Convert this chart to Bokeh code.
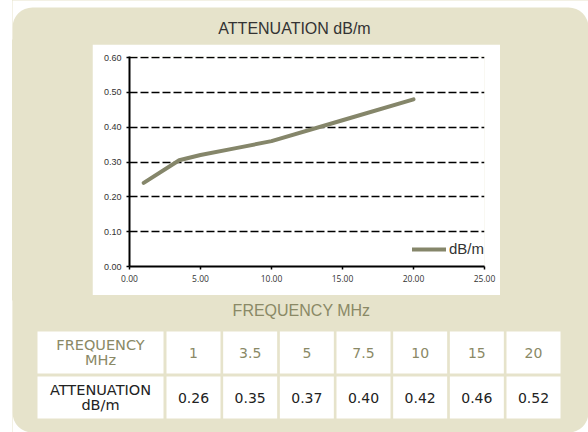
from bokeh.plotting import figure
from bokeh.layouts import column, row
from bokeh.models import (Legend, LegendItem, FixedTicker, NumeralTickFormatter, Range1d)
from bokeh.core.properties import value
from bokeh.embed import file_html
from bokeh.resources import INLINE

# ---- data -------------------------------------------------------------
freq_mhz = [1, 3.5, 5, 7.5, 10, 15, 20]
atten_db_m = [0.24, 0.305, 0.32, 0.34, 0.36, 0.42, 0.48]
x_ticks = [0, 5, 10, 15, 20, 25]
y_ticks = [0.0, 0.1, 0.2, 0.3, 0.4, 0.5, 0.6]
table_freq = ["1", "3.5", "5", "7.5", "10", "15", "20"]
table_atten = ["0.26", "0.35", "0.37", "0.40", "0.42", "0.46", "0.52"]
chart_title = "ATTENUATION dB/m"
x_title = "FREQUENCY MHz"
row_headers = [["FREQUENCY", "MHz"], ["ATTENUATION", "dB/m"]]

# ---- styles -----------------------------------------------------------
BEIGE = "#e6e3cb"
OLIVE = "#85866a"
OLIVE_TXT = "#8a8966"
DARK = "#333333"
TDARK = "#222222"
W, H = 588, 432
# white chart box (page px) and plot frame (page px)
wL, wT, wR, wB = 92, 44, 500, 295
fL, fT, fR, fB = 129, 57, 484, 266
bL, bT = 12, 7  # beige panel origin
RAD = 20
OV = 10  # overdraw beyond canvas edges


def deco(x0, x1, y0, y1):
    """Decorative figure whose frame fills its canvas; coordinates are page pixels."""
    f = figure(width=x1 - x0, height=y1 - y0, output_backend="svg",
               toolbar_location=None, x_axis_type=None, y_axis_type=None,
               x_range=Range1d(x0, x1), y_range=Range1d(y1, y0),
               min_border=0, outline_line_color=None, frame_align=False,
               background_fill_color=BEIGE, border_fill_color=BEIGE)
    f.grid.visible = False
    return f


# ---- top band (title) ------------------------------------------------
top = deco(bL, W, 0, wT)
top.quad(left=bL - OV, right=W + OV, top=-OV, bottom=wT - 5,
         fill_color="white", line_color=None)
top.quad(left=bL, right=W, top=bT, bottom=wT + 60, fill_color=BEIGE,
         line_color=None, border_radius=RAD)
top.text(x=[294], y=[28], text=[chart_title], text_align="center",
         text_baseline="middle", text_font=value("Liberation Sans"),
         text_font_size="16px", text_color=DARK)

# ---- side bands -------------------------------------------------------
left = deco(bL, wL, wT, wB)
right = deco(wR, W, wT, wB)

# ---- chart ------------------------------------------------------------
Y_TOP = 0.603
chart = figure(width=wR - wL, height=wB - wT, output_backend="svg", toolbar_location=None,
               x_range=Range1d(0, 25), y_range=Range1d(0, Y_TOP),
               min_border_left=fL - wL, min_border_right=wR - fR,
               min_border_top=fT - wT - 1, min_border_bottom=wB - fB,
               border_fill_color="white", background_fill_color="white",
               outline_line_color=None, frame_align=False)
r = chart.line(freq_mhz, atten_db_m, line_color=OLIVE, line_width=4,
               line_join="round", line_cap="round")
chart.xaxis.ticker = FixedTicker(ticks=x_ticks)
chart.yaxis.ticker = FixedTicker(ticks=y_ticks)
chart.xaxis.formatter = NumeralTickFormatter(format="0.00")
chart.yaxis.formatter = NumeralTickFormatter(format="0.00")
for ax in (chart.xaxis, chart.yaxis):
    ax.axis_line_color = "black"
    ax.axis_line_width = 2
    ax.major_tick_line_color = "black"
    ax.major_tick_line_width = 1.5
    ax.major_tick_in = 0
    ax.major_tick_out = 3
    ax.minor_tick_line_color = None
    ax.major_label_text_color = DARK
    ax.major_label_standoff = 5
chart.xaxis.major_label_text_font = "Open Sans"
chart.xaxis.major_label_text_font_size = "8.5px"
chart.yaxis.major_label_text_font = "Liberation Sans"
chart.yaxis.major_label_text_font_size = "9px"
chart.xgrid.visible = False
chart.ygrid.grid_line_color = "black"
chart.ygrid.grid_line_dash = "8 3"
chart.ygrid.grid_line_width = 1.4
legend = Legend(items=[LegendItem(label="dB/m", renderers=[r])], location=(283, 9),
                glyph_width=34, glyph_height=16, label_height=16, label_standoff=3,
                padding=0, margin=0, spacing=0, border_line_color=None,
                background_fill_alpha=0, label_text_font="Liberation Sans",
                label_text_font_size="15px", label_text_color=DARK)
chart.add_layout(legend)

# ---- bottom band (axis title + table) ---------------------------------
bot = deco(bL, W, wB, H)
bot.quad(left=bL - OV, right=W + OV, top=wB + 5, bottom=H + OV,
         fill_color="white", line_color=None)
bot.quad(left=bL, right=W, top=wB - 60, bottom=H, fill_color=BEIGE,
         line_color=None, border_radius=RAD)
bot.text(x=[301], y=[310], text=[x_title], text_align="center", text_baseline="middle",
         text_font=value("Liberation Sans"), text_font_size="16px", text_color=OLIVE_TXT)

row_tops = [331, 376]
row_h = 42
first_l, first_r = 37, 163
col0 = 166
pitch = (506 - 166) / 6
col_w = 54
n = len(table_freq)
cell_l, cell_r, cell_t, cell_b = [], [], [], []
for rt in row_tops:
    cell_l.append(first_l); cell_r.append(first_r)
    cell_t.append(rt); cell_b.append(rt + row_h)
    for i in range(n):
        cell_l.append(col0 + i * pitch); cell_r.append(col0 + i * pitch + col_w)
        cell_t.append(rt); cell_b.append(rt + row_h)
bot.quad(left=cell_l, right=cell_r, top=cell_t, bottom=cell_b,
         fill_color="white", line_color=None)

TFONT = value("DejaVu Sans")
hdr_cx = (first_l + first_r) / 2
hx, hy, ht, hc = [], [], [], []
for rt, lines, col in zip(row_tops, row_headers, [OLIVE_TXT, TDARK]):
    mid = rt + row_h / 2
    for k, t in enumerate(lines):
        hx.append(hdr_cx); hy.append(mid - 7.5 + 15 * k); ht.append(t); hc.append(col)
bot.text(x=hx, y=hy, text=ht, text_color=hc, text_align="center", text_baseline="middle",
         text_font=TFONT, text_font_size="14.5px")

cx = [col0 + i * pitch + col_w / 2 for i in range(n)]
bot.text(x=cx, y=[row_tops[0] + row_h / 2] * n, text=table_freq, text_color=OLIVE_TXT,
         text_align="center", text_baseline="middle", text_font=TFONT, text_font_size="14px")
bot.text(x=cx, y=[row_tops[1] + row_h / 2] * n, text=table_atten, text_color=TDARK,
         text_align="center", text_baseline="middle", text_font=TFONT, text_font_size="14px")

layout = column(top, row(left, chart, right, spacing=0), bot, spacing=0,
                margin=(0, 0, 0, bL), styles={"background-color": BEIGE})
open("out.html", "w").write(file_html(layout, INLINE))
